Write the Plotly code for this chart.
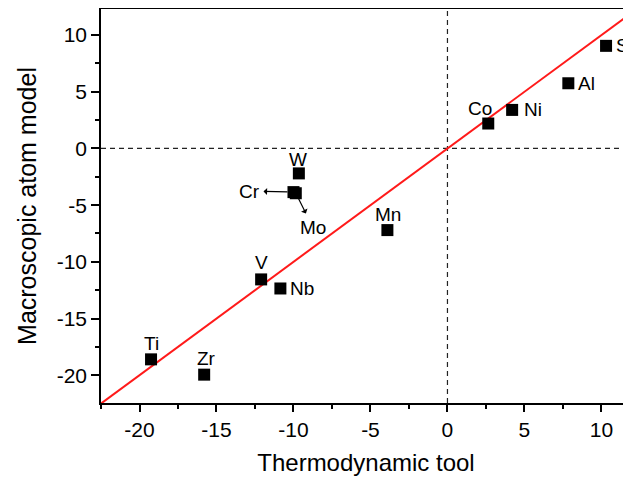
import plotly.graph_objects as go

# Elements and their values (thermodynamic tool vs macroscopic atom model)
elements = ['S', 'Al', 'Ni', 'Co', 'W', 'Cr', 'Mo', 'Mn', 'V', 'Nb', 'Ti', 'Zr']
thermo = [10.3, 7.85, 4.2, 2.65, -9.65, -10.0, -9.85, -3.9, -12.1, -10.85, -19.25, -15.8]
macro = [9.05, 5.75, 3.4, 2.2, -2.2, -3.85, -3.95, -7.2, -11.55, -12.35, -18.6, -19.95]

# y = x reference line
line_x = [-22.5, 12.5]
line_y = [-22.5, 12.5]

x_ticks = [-20, -15, -10, -5, 0, 5, 10]
x_labels = ['-20', '-15', '-10', '-5', '0', '5', '10']
y_ticks = [-20, -15, -10, -5, 0, 5, 10]
y_labels = ['-20', '-15', '-10', '-5', '0', '5', '10']

font = 'Liberation Sans, Arial, sans-serif'

fig = go.Figure()

fig.add_trace(go.Scatter(
    x=line_x, y=line_y, mode='lines',
    line=dict(color='#ff1a1a', width=2),
    showlegend=False, hoverinfo='skip'
))

fig.add_trace(go.Scatter(
    x=thermo, y=macro, mode='markers',
    marker=dict(symbol='square', size=12, color='black'),
    showlegend=False
))

# label placement (pixels): name -> (xanchor, xshift, yshift)
label_pos = {
    'S': ('left', 8, 0),
    'Al': ('left', 8, 0),
    'Ni': ('left', 10, 0),
    'Co': ('center', -8, 15),
    'W': ('center', -1, 14),
    'Mn': ('center', 1, 16),
    'V': ('center', 0, 17),
    'Nb': ('left', 8, 0),
    'Ti': ('center', 0, 16),
    'Zr': ('center', 2, 16),
}

for name, x, y in zip(elements, thermo, macro):
    if name in label_pos:
        xa, xs, ys = label_pos[name]
        fig.add_annotation(x=x, y=y, text=name, showarrow=False,
                           xanchor=xa, xshift=xs, yshift=ys,
                           font=dict(size=19, color='black', family=font))

# arrow labels for the overlapping Cr / Mo points
arrows = {'Cr': (-44, -1), 'Mo': (17, 34)}
for name, x, y in zip(elements, thermo, macro):
    if name in arrows:
        ax, ay = arrows[name]
        fig.add_annotation(x=x, y=y, text=name, showarrow=True,
                           ax=ax, ay=ay, arrowside='start', arrowhead=2,
                           arrowsize=1, arrowwidth=1.2, arrowcolor='black',
                           standoff=6, startstandoff=2,
                           font=dict(size=19, color='black', family=font))

# dashed zero lines
fig.add_shape(type='line', xref='x', yref='paper', x0=0, x1=0, y0=0, y1=1,
              line=dict(color='#222222', width=1.2, dash='5px,4px'), layer='below')
fig.add_shape(type='line', xref='paper', yref='y', x0=0, x1=1, y0=0, y1=0,
              line=dict(color='#222222', width=1.2, dash='5px,4px'), layer='below')

# the page body adds an 8px margin, so the figure is sized to fit inside the window
fig.update_layout(
    width=623, height=468,
    margin=dict(l=93, r=0, t=1, b=73),
    paper_bgcolor='white', plot_bgcolor='white',
    font=dict(family=font, color='black'),
    xaxis=dict(
        range=[-22.5, 11.92], tickvals=x_ticks, ticktext=x_labels,
        showgrid=False, zeroline=False, automargin=False,
        showline=True, linecolor='black', linewidth=1.5, mirror=True,
        ticks='outside', ticklen=7, tickwidth=1.5, tickcolor='black',
        minor=dict(dtick=2.5, tick0=0, ticks='outside', ticklen=4,
                   tickwidth=1.5, tickcolor='black', showgrid=False),
        tickfont=dict(size=21),
        title=dict(text='Thermodynamic tool', font=dict(size=24), standoff=15),
    ),
    yaxis=dict(
        range=[-22.45, 12.3], tickvals=y_ticks, ticktext=y_labels,
        showgrid=False, zeroline=False, automargin=False,
        showline=True, linecolor='black', linewidth=1.5, mirror=False,
        ticks='outside', ticklen=8, tickwidth=1.5, tickcolor='black',
        minor=dict(dtick=2.5, tick0=0, ticks='outside', ticklen=4,
                   tickwidth=1.5, tickcolor='black', showgrid=False),
        tickfont=dict(size=21),
        title=dict(text='Macroscopic atom model', font=dict(size=25), standoff=13),
    ),
)

fig.write_html("out.html")
